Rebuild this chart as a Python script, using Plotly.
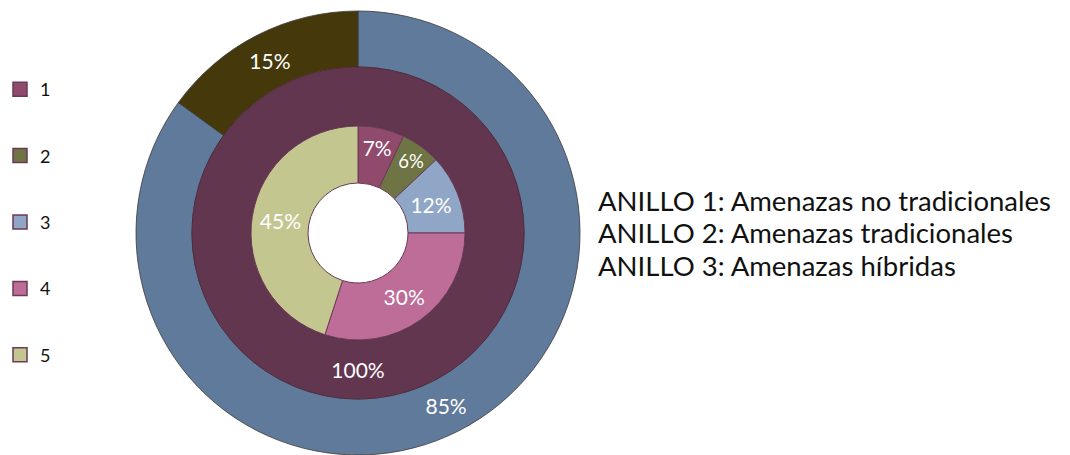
import plotly.graph_objects as go

# Data
inner_labels = ["1", "2", "3", "4", "5"]
inner_values = [7, 6, 12, 30, 45]
inner_colors = ["#904A6C", "#6F7444", "#8FA6C6", "#BE6C98", "#C4C690"]

middle_labels = ["1"]
middle_values = [100]
middle_colors = ["#633650"]

outer_labels = ["1", "2"]
outer_values = [85, 15]
outer_colors = ["#607A9B", "#45380A"]

ring_notes = [
    "ANILLO 1: Amenazas no tradicionales",
    "ANILLO 2: Amenazas tradicionales",
    "ANILLO 3: Amenazas híbridas",
]

W, H = 1070, 455
cx, cy = 358, 222  # center in px (y from bottom)
R_out, R_mid, R_in, R_hole = 222, 166, 107, 50
FONT = "Lato"


def dom(r):
    return dict(x=[(cx - r) / W, (cx + r) / W], y=[(cy - r) / H, (cy + r) / H])


fig = go.Figure()

common = dict(sort=False, direction="clockwise", rotation=0, showlegend=False,
              textinfo="percent", texttemplate="%{value}%", textposition="inside",
              insidetextorientation="horizontal", hoverinfo="label+value",
              insidetextfont=dict(color="white", size=21, family=FONT))

fig.add_trace(go.Pie(labels=outer_labels, values=outer_values, hole=R_mid / R_out,
                     domain=dom(R_out), marker=dict(colors=outer_colors, line=dict(color="#3d3a3a", width=0.8)),
                     name="ANILLO 3", **common))
fig.add_trace(go.Pie(labels=middle_labels, values=middle_values, hole=R_in / R_mid,
                     domain=dom(R_mid), marker=dict(colors=middle_colors, line=dict(color="#4a2538", width=0.8)),
                     name="ANILLO 2", **common))
fig.add_trace(go.Pie(labels=inner_labels, values=inner_values, hole=R_hole / R_in,
                     domain=dom(R_in), marker=dict(colors=inner_colors, line=dict(color="#6b3a55", width=1)),
                     name="ANILLO 1", **common))

# legend entries via dummy traces
for lab, col in zip(inner_labels, inner_colors):
    fig.add_trace(go.Scatter(x=[None], y=[None], mode="markers", name=lab, legendgroup=lab,
                             marker=dict(symbol="square", size=14, color=col,
                                         line=dict(color="#6b3a55", width=1.5)),
                             showlegend=True, hoverinfo="skip"))

for i, t in enumerate(ring_notes):
    fig.add_annotation(x=596 / W, y=(H - (200 + 33 * i)) / H, xref="paper", yref="paper",
                       xanchor="left", yanchor="middle", text=t, showarrow=False,
                       font=dict(size=27.5, color="#111111", family=FONT))

fig.update_layout(
    width=W, height=H,
    margin=dict(l=0, r=0, t=0, b=0),
    paper_bgcolor="white", plot_bgcolor="white",
    xaxis=dict(visible=False), yaxis=dict(visible=False),
    legend=dict(x=0.0, y=1 - 71 / H, xanchor="left", yanchor="top",
                tracegroupgap=40, font=dict(size=18, family=FONT, color="#111111"),
                itemwidth=30, bgcolor="rgba(0,0,0,0)"),
)

fig.write_html("out.html", config={"displayModeBar": False},
               post_script="document.body.style.margin='0px';")
